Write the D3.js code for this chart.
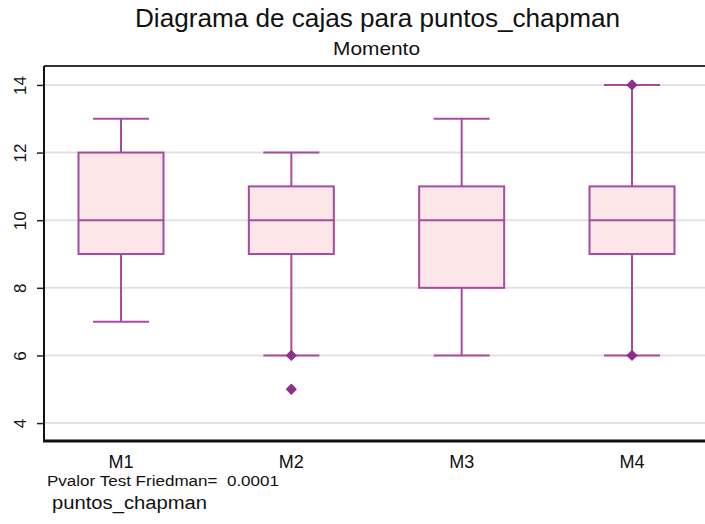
<!DOCTYPE html>
<html>
<head>
<meta charset="utf-8">
<script src="https://cdn.jsdelivr.net/npm/d3@7"></script>
<style>
  body { margin: 0; background: #fff; }
  text { font-family: "Liberation Sans", Arial, sans-serif; fill: #111; }
</style>
</head>
<body>
<div id="chart"></div>
<script>
var width = 705, height = 524;

// datos
var momentos = ["M1", "M2", "M3", "M4"];
var minimos  = [7, 6, 6, 6];
var q1       = [9, 9, 8, 9];
var medianas = [10, 10, 10, 10];
var q3       = [12, 11, 11, 11];
var maximos  = [13, 12, 13, 14];
var atipicos = [[], [6, 5], [], [6, 14]];
var yTicks   = [4, 6, 8, 10, 12, 14];

var margin = {left: 44, top: 66, right: 0, bottom: 83};
var pw = width - margin.left - margin.right,
    ph = height - margin.top - margin.bottom;

var svg = d3.select("#chart").append("svg")
  .attr("width", width)
  .attr("height", height);

var x = d3.scalePoint().domain(momentos).range([121, 632]);
var y = d3.scaleLinear().domain([3.47, 14.56]).range([margin.top + ph, margin.top]);

var stroke = "#a64b9f", fillBox = "#fde6e8", dot = "#8f2f8b";

// grid
svg.append("g").selectAll("line")
  .data(yTicks)
  .enter().append("line")
  .attr("x1", margin.left).attr("x2", width)
  .attr("y1", d => y(d)).attr("y2", d => y(d))
  .style("stroke", "#e2e2e2").style("stroke-width", 2);

// eje y
var yAxis = svg.append("g")
  .attr("transform", "translate(" + margin.left + ",0)")
  .call(d3.axisLeft(y).tickValues(yTicks).tickSize(7).tickSizeOuter(0).tickFormat(d3.format("d")));
yAxis.select(".domain").remove();
yAxis.selectAll(".tick line").style("stroke", "#222").style("stroke-width", 1.5);
yAxis.selectAll(".tick text")
  .attr("transform", "rotate(-90)")
  .attr("x", 0).attr("y", -24).attr("dy", "0.35em")
  .style("text-anchor", "middle")
  .style("font-size", "17px");

// marco
svg.append("line").attr("x1", margin.left).attr("x2", width)
  .attr("y1", margin.top).attr("y2", margin.top)
  .style("stroke", "#333").style("stroke-width", 2);
svg.append("line").attr("x1", margin.left).attr("x2", margin.left)
  .attr("y1", margin.top).attr("y2", margin.top + ph)
  .style("stroke", "#111").style("stroke-width", 2);
svg.append("line").attr("x1", margin.left - 1).attr("x2", width)
  .attr("y1", margin.top + ph).attr("y2", margin.top + ph)
  .style("stroke", "#111").style("stroke-width", 3);

var boxW = 85, capW = 56;
var g = svg.append("g").selectAll("g")
  .data(momentos)
  .enter().append("g");

g.append("line")
  .attr("x1", d => x(d)).attr("x2", d => x(d))
  .attr("y1", (d, i) => y(minimos[i])).attr("y2", (d, i) => y(maximos[i]))
  .style("stroke", stroke).style("stroke-width", 2);
g.append("line")
  .attr("x1", d => x(d) - capW / 2).attr("x2", d => x(d) + capW / 2)
  .attr("y1", (d, i) => y(minimos[i])).attr("y2", (d, i) => y(minimos[i]))
  .style("stroke", stroke).style("stroke-width", 2);
g.append("line")
  .attr("x1", d => x(d) - capW / 2).attr("x2", d => x(d) + capW / 2)
  .attr("y1", (d, i) => y(maximos[i])).attr("y2", (d, i) => y(maximos[i]))
  .style("stroke", stroke).style("stroke-width", 2);
g.append("rect")
  .attr("x", d => x(d) - boxW / 2).attr("width", boxW)
  .attr("y", (d, i) => y(q3[i])).attr("height", (d, i) => y(q1[i]) - y(q3[i]))
  .style("fill", fillBox).style("stroke", stroke).style("stroke-width", 2);
g.append("line")
  .attr("x1", d => x(d) - boxW / 2).attr("x2", d => x(d) + boxW / 2)
  .attr("y1", (d, i) => y(medianas[i])).attr("y2", (d, i) => y(medianas[i]))
  .style("stroke", stroke).style("stroke-width", 2);

g.each(function(d, i) {
  d3.select(this).selectAll("path.out")
    .data(atipicos[i])
    .enter().append("path")
    .attr("class", "out")
    .attr("d", d3.symbol().type(d3.symbolDiamond2).size(55))
    .attr("transform", v => "translate(" + x(d) + "," + y(v) + ")")
    .style("fill", dot).style("stroke", dot).style("stroke-width", 1.5)
    .style("stroke-linejoin", "round");
});

// etiquetas x
svg.append("g").selectAll("text")
  .data(momentos)
  .enter().append("text")
  .attr("x", d => x(d)).attr("y", 468)
  .style("text-anchor", "middle").style("font-size", "18px")
  .text(d => d);

// titulos
svg.append("text").attr("x", 135).attr("y", 27)
  .attr("textLength", 485).attr("lengthAdjust", "spacingAndGlyphs")
  .style("font-size", "26px")
  .text("Diagrama de cajas para puntos_chapman");
svg.append("text").attr("x", 333).attr("y", 55)
  .attr("textLength", 87).attr("lengthAdjust", "spacingAndGlyphs")
  .style("font-size", "19px")
  .text("Momento");

svg.append("text").attr("x", 47).attr("y", 486)
  .attr("textLength", 232).attr("lengthAdjust", "spacingAndGlyphs")
  .style("font-size", "14px")
  .text("Pvalor Test Friedman=\u00a0 0.0001");
svg.append("text").attr("x", 52).attr("y", 509)
  .attr("textLength", 155).attr("lengthAdjust", "spacingAndGlyphs")
  .style("font-size", "18px")
  .text("puntos_chapman");
</script>
</body>
</html>
